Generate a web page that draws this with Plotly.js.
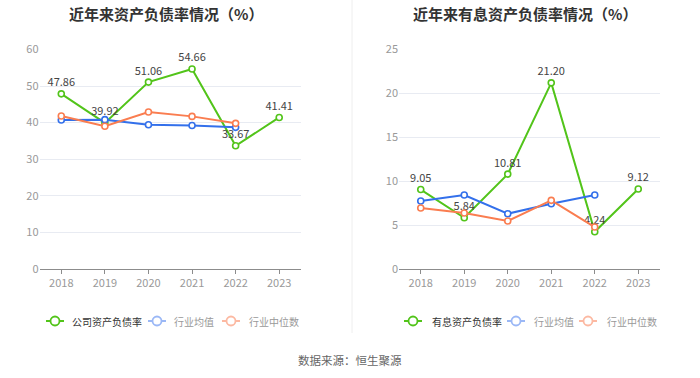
<!DOCTYPE html>
<html>
<head>
<meta charset="utf-8">
<script src="https://cdn.plot.ly/plotly-3.0.1.min.js"></script>
<style>
html,body{margin:0;padding:0;background:#fff;}
#chart{width:700px;height:378px;}
</style>
</head>
<body>
<div id="chart"></div>
<script>
// ---- data ----
const years = ['2018', '2019', '2020', '2021', '2022', '2023'];
const companyDebtRatio = [47.86, 39.92, 51.06, 54.66, 33.67, 41.41];
const industryAvgDebt = [40.7, 40.8, 39.4, 39.2, 38.7];
const industryMedDebt = [41.8, 39.0, 42.9, 41.7, 39.8];
const interestDebtRatio = [9.05, 5.84, 10.81, 21.20, 4.24, 9.12];
const industryAvgInterest = [7.74, 8.43, 6.30, 7.44, 8.43];
const industryMedInterest = [6.95, 6.38, 5.47, 7.82, 4.78];
const leftTitle = '近年来资产负债率情况（%）';
const rightTitle = '近年来有息资产负债率情况（%）';
const leftLegend = ['公司资产负债率', '行业均值', '行业中位数'];
const rightLegend = ['有息资产负债率', '行业均值', '行业中位数'];
const sourceText = '数据来源：恒生聚源';

// ---- style ----
const W = 700, H = 378;
const px = x => x / W;
const py = y => 1 - y / H;
const GREEN = '#52c41a', BLUE = '#3370eb', ORANGE = '#fa7d50';
const BLUE_L = '#9bb8f6', ORANGE_L = '#fcb9a2';
const FONT = '"Noto Sans CJK SC", "Noto Sans", sans-serif';

function series(x, y, color, name, xa, ya, labels) {
  const t = {
    type: 'scatter', mode: labels ? 'lines+markers+text' : 'lines+markers',
    x: x, y: y, name: name, xaxis: xa, yaxis: ya,
    line: {color: color, width: 2},
    marker: {symbol: 'circle', size: 6, color: '#fff', line: {color: color, width: 1.6}},
    hoverinfo: 'none', showlegend: false, cliponaxis: false
  };
  if (labels) {
    t.text = y.map(v => v.toFixed(2));
    t.textposition = 'top center';
    t.textfont = {size: 11, color: '#444', family: FONT};
  }
  return t;
}

const data = [
  series(years, companyDebtRatio, GREEN, leftLegend[0], 'x', 'y', true),
  series(years.slice(0, industryAvgDebt.length), industryAvgDebt, BLUE, leftLegend[1], 'x', 'y', false),
  series(years.slice(0, industryMedDebt.length), industryMedDebt, ORANGE, leftLegend[2], 'x', 'y', false),
  series(years, interestDebtRatio, GREEN, rightLegend[0], 'x2', 'y2', true),
  series(years.slice(0, industryAvgInterest.length), industryAvgInterest, BLUE, rightLegend[1], 'x2', 'y2', false),
  series(years.slice(0, industryMedInterest.length), industryMedInterest, ORANGE, rightLegend[2], 'x2', 'y2', false)
];

function xaxis(d) {
  return {
    domain: d, type: 'category', range: [-0.5, years.length - 0.5],
    showgrid: false, zeroline: false, showline: true, linecolor: '#8c8c8c', linewidth: 1,
    ticks: 'outside', ticklen: 4, tickcolor: '#8c8c8c',
    tickfont: {size: 11, color: '#999', family: FONT}, fixedrange: true
  };
}
function yaxis(d, max, dt, anchor) {
  return {
    domain: d, range: [0, max], dtick: dt, anchor: anchor,
    showgrid: true, gridcolor: '#e8ebf2', gridwidth: 1, zeroline: false, showline: false,
    ticks: '', tickfont: {size: 11, color: '#999', family: FONT}, fixedrange: true
  };
}

const shapes = [
  {type: 'line', xref: 'paper', yref: 'paper', x0: px(352), x1: px(352), y0: py(0), y1: py(333),
   line: {color: '#eeeeee', width: 1}}
];
const annotations = [
  {text: '<b>' + leftTitle + '</b>', x: px(166), y: py(13), xref: 'paper', yref: 'paper',
   showarrow: false, font: {size: 15, color: '#333', family: FONT}, xanchor: 'center', yanchor: 'middle'},
  {text: '<b>' + rightTitle + '</b>', x: px(525), y: py(13), xref: 'paper', yref: 'paper',
   showarrow: false, font: {size: 15, color: '#333', family: FONT}, xanchor: 'center', yanchor: 'middle'},
  {text: sourceText, x: px(350), y: py(360), xref: 'paper', yref: 'paper',
   showarrow: false, font: {size: 11.5, color: '#666', family: FONT}, xanchor: 'center', yanchor: 'middle'}
];

function legendItem(cx, tx, color, label, textColor) {
  const ly = 321;
  shapes.push({type: 'line', xref: 'paper', yref: 'paper', x0: px(cx - 9), x1: px(cx + 9),
    y0: py(ly), y1: py(ly), line: {color: color, width: 2}});
  shapes.push({type: 'circle', xref: 'paper', yref: 'paper', x0: px(cx - 4.5), x1: px(cx + 4.5),
    y0: py(ly + 4.5), y1: py(ly - 4.5), fillcolor: '#fff', line: {color: color, width: 1.8}});
  annotations.push({text: label, x: px(tx), y: py(ly), xref: 'paper', yref: 'paper',
    showarrow: false, xanchor: 'left', yanchor: 'middle',
    font: {size: 10, color: textColor, family: FONT}});
}
legendItem(55, 70, GREEN, leftLegend[0], '#333');
legendItem(157, 172, BLUE_L, leftLegend[1], '#999');
legendItem(231, 247, ORANGE_L, leftLegend[2], '#999');
legendItem(413, 430, GREEN, rightLegend[0], '#333');
legendItem(516, 532, BLUE_L, rightLegend[1], '#999');
legendItem(588, 605, ORANGE_L, rightLegend[2], '#999');

const layout = {
  width: W, height: H,
  margin: {l: 0, r: 0, t: 0, b: 0, pad: 0},
  paper_bgcolor: '#fff', plot_bgcolor: '#fff',
  showlegend: false,
  font: {family: FONT},
  xaxis: xaxis([px(39.5), px(301)]),
  yaxis: yaxis([py(269), py(49.4)], 60, 10, 'x'),
  xaxis2: Object.assign(xaxis([px(399), px(660)]), {anchor: 'y2'}),
  yaxis2: yaxis([py(269), py(49.5)], 25, 5, 'x2'),
  shapes: shapes,
  annotations: annotations
};
layout.xaxis.anchor = 'y';

Plotly.newPlot('chart', data, layout, {displayModeBar: false, staticPlot: true});
</script>
</body>
</html>
